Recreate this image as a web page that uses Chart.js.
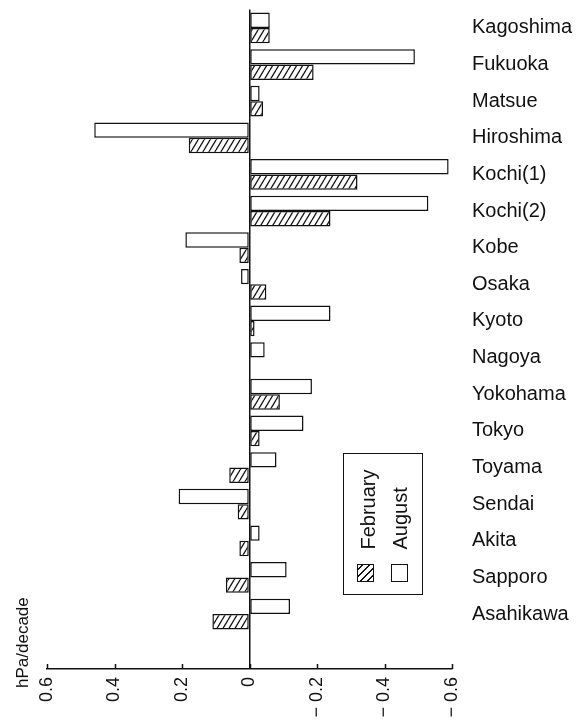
<!DOCTYPE html>
<html>
<head>
<meta charset="utf-8">
<script src="https://cdn.jsdelivr.net/npm/chart.js@4.4.1/dist/chart.umd.min.js"></script>
<style>
  html, body { margin: 0; padding: 0; background: #fff; }
  #wrap { position: relative; width: 577px; height: 722px; overflow: hidden; font-family: 'Liberation Sans', Arial, sans-serif; color: #111; }
  #c { position: absolute; left: 0; top: 0; }
  .rot { position: absolute; left: 0; top: 0; transform-origin: 0 0; white-space: nowrap; }
  #unit { font-size: 17px; line-height: 17px; transform: translate(14px, 688px) rotate(-90deg); }
  #legend { width: 142px; height: 80px; box-sizing: border-box; border: 1.5px solid #111; transform: translate(343px, 595px) rotate(-90deg); }
  .sw { position: absolute; width: 18px; height: 17px; box-sizing: border-box; border: 1.5px solid #111; background: #fff; }
  .hatch { background: repeating-linear-gradient(45deg, #fff 0px, #fff 3.4px, #111 3.4px, #111 4.8px); }
  .lt { position: absolute; font-size: 20px; line-height: 20px; }
</style>
</head>
<body>
<div id="wrap">
  <canvas id="c" width="577" height="722"></canvas>
  <div id="unit" class="rot">hPa/decade</div>
  <div id="legend" class="rot">
    <div class="sw hatch" style="left:11.8px; top:13.2px;"></div>
    <div class="lt" style="left:44.5px; top:13.6px;">February</div>
    <div class="sw" style="left:11.8px; top:46.5px;"></div>
    <div class="lt" style="left:44.5px; top:45.5px;">August</div>
  </div>
</div>
<script>
// ---- data ----
const cities = ['Kagoshima','Fukuoka','Matsue','Hiroshima','Kochi(1)','Kochi(2)','Kobe','Osaka','Kyoto','Nagoya','Yokohama','Tokyo','Toyama','Sendai','Akita','Sapporo','Asahikawa'];
const august   = [-0.06, -0.49, -0.03, 0.46, -0.59, -0.53, 0.19, 0.025, -0.24, -0.045, -0.185, -0.16, -0.08, 0.21, -0.03, -0.11, -0.12];
const february = [-0.06, -0.19, -0.04, 0.18, -0.32, -0.24, 0.03, -0.05, -0.015, 0, -0.09, -0.03, 0.06, 0.035, 0.03, 0.07, 0.11];
const tickValues = [0.6, 0.4, 0.2, 0, -0.2, -0.4, -0.6];
const tickLabels = ['0.6', '0.4', '0.2', '0', '\u2212 0.2', '\u2212 0.4', '\u2212 0.6'];

// ---- hatch pattern ----
function makeHatch() {
  const t = document.createElement('canvas');
  t.width = 6; t.height = 10;
  const g = t.getContext('2d');
  g.fillStyle = '#fff'; g.fillRect(0, 0, 6, 10);
  g.strokeStyle = '#111'; g.lineWidth = 1.3;
  g.beginPath();
  for (const x0 of [-6, 0, 6]) { g.moveTo(x0, 10); g.lineTo(x0 + 6, 0); }
  g.stroke();
  return g.createPattern(t, 'repeat');
}
const ctx = document.getElementById('c').getContext('2d');
const hatch = makeHatch();

Chart.defaults.font.family = "'Liberation Sans', Arial, sans-serif";
Chart.defaults.color = '#111';

const upTicks = {
  id: 'upTicks',
  afterDraw(chart) {
    const xs = chart.scales.x, c = chart.ctx;
    c.save();
    c.strokeStyle = '#111'; c.lineWidth = 1.5;
    c.beginPath();
    xs.ticks.forEach(t => {
      const px = Math.round(xs.getPixelForValue(t.value)) + 0.5;
      c.moveTo(px, xs.top); c.lineTo(px, xs.top - 5);
    });
    c.stroke();
    c.restore();
  }
};

new Chart(ctx, {
  type: 'bar',
  data: {
    labels: [...cities, ''],
    datasets: [
      { label: 'August', data: august, backgroundColor: '#fff', borderColor: '#111', borderWidth: 1.5, borderSkipped: false },
      { label: 'February', data: february, backgroundColor: hatch, borderColor: '#111', borderWidth: 1.5, borderSkipped: false }
    ]
  },
  options: {
    indexAxis: 'y',
    responsive: false,
    animation: false,
    devicePixelRatio: 1,
    categoryPercentage: 0.84,
    barPercentage: 1,
    layout: { padding: { left: 47, top: 9.6, right: 0, bottom: 0 } },
    plugins: { legend: { display: false }, tooltip: { enabled: false } },
    scales: {
      x: {
        type: 'linear',
        reverse: true,
        min: -0.6, max: 0.6,
        ticks: {
          stepSize: 0.2,
          minRotation: 90, maxRotation: 90,
          padding: 8,
          color: '#111',
          font: { size: 18 },
          callback: (v) => {
            const i = tickValues.findIndex(t => Math.abs(t - v) < 1e-9);
            return i >= 0 ? tickLabels[i] : '';
          }
        },
        grid: {
          drawTicks: false,
          lineWidth: 1.5,
          color: (c) => (c.tick && Math.abs(c.tick.value) < 1e-9) ? '#111' : 'rgba(0,0,0,0)'
        },
        border: { display: true, color: '#111', width: 1.5 },
        afterFit: (s) => { s.height = 53; }
      },
      y: {
        position: 'right',
        grid: { display: false, drawTicks: true, tickLength: 20 },
        border: { display: false },
        ticks: { padding: 0, color: '#111', font: { size: 20, lineHeight: 0.9 }, autoSkip: false },
        afterFit: (s) => { s.width = 125; }
      }
    }
  },
  plugins: [upTicks]
});
</script>
</body>
</html>
